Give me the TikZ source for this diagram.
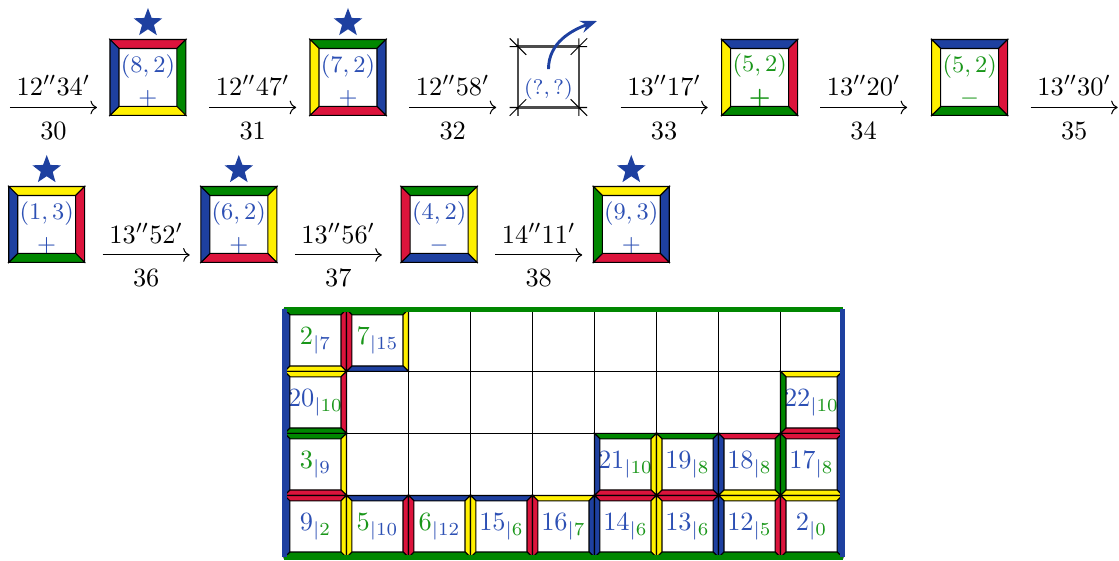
\documentclass[tikz,border=0pt]{standalone}
\usepackage{bm}
\usepackage{tikz}
\usetikzlibrary{positioning, calc, shapes.geometric, arrows.meta}

\definecolor{pblue}{RGB}{30,64,160}
\definecolor{pred}{RGB}{220,20,60}
\definecolor{pgreen}{RGB}{0,135,0}
\definecolor{pyellow}{RGB}{255,240,0}
\definecolor{tblue}{RGB}{45,80,180}
\definecolor{tgreen}{RGB}{25,150,25}

\tikzset{
  piece/.style={minimum size=1.013cm, inner sep=0pt, outer sep=0pt, align=center, font=\small},
  cell/.style={minimum size=0.8267cm, inner sep=0pt, outer sep=0pt}
}
\tikzset{
  move/.style={->},
  timelbl/.style={midway, above=1pt},
  movelbl/.style={midway, below=2pt},
  starmark/.style={star, star points=5, star point ratio=2.4, fill=pblue, inner sep=0pt, minimum size=0.4cm},
  gridline/.style={line width=0.6pt},
  border/.style={line width=1.9pt}
}

% four bevelled edges of a piece: node, depth, top, right, bottom, left
\newcommand{\edges}[6]{%
  \filldraw[fill=#3] (#1.north west) -- (#1.north east) -- ([shift={(-#2cm,-#2cm)}]#1.north east) -- ([shift={(#2cm,-#2cm)}]#1.north west) -- cycle;
  \filldraw[fill=#4] (#1.north east) -- (#1.south east) -- ([shift={(-#2cm,#2cm)}]#1.south east) -- ([shift={(-#2cm,-#2cm)}]#1.north east) -- cycle;
  \filldraw[fill=#5] (#1.south east) -- (#1.south west) -- ([shift={(#2cm,#2cm)}]#1.south west) -- ([shift={(-#2cm,#2cm)}]#1.south east) -- cycle;
  \filldraw[fill=#6] (#1.south west) -- (#1.north west) -- ([shift={(#2cm,-#2cm)}]#1.north west) -- ([shift={(#2cm,#2cm)}]#1.south west) -- cycle;
}
\newcommand{\gnum}[4]{$\textcolor{#3}{#1}_{\textcolor{tblue}{|}\textcolor{#4}{#2}}$}
\newcommand{\pos}[2]{\rule{0pt}{9.2pt}$#1$\\[1.5pt]$#2$}

\begin{document}
\begin{tikzpicture}
  \useasboundingbox (0,0) rectangle (14.92,-7.48);

  % first row of moves
  \node[piece, text=tblue] (m30) at (1.973,-1.033) {\pos{(8,2)}{+}};
  \edges{m30}{0.12}{pred}{pgreen}{pyellow}{pblue}
  \node[piece, text=tblue] (m31) at (4.64,-1.033) {\pos{(7,2)}{+}};
  \edges{m31}{0.12}{pgreen}{pblue}{pred}{pyellow}
  \node[draw=black!70, line width=0.8pt, minimum size=0.813cm, inner sep=0pt, outer sep=0pt] (m32) at (7.313,-1.027) {};
  \foreach \a/\sx/\sy in {north west/-1/1, north east/1/1, south east/1/-1, south west/-1/-1}
    \draw ([shift={(\sx*0.11,0)}]m32.\a) -- (m32.\a) -- ([shift={(0,\sy*0.11)}]m32.\a)
          ([shift={(\sx*0.11,\sy*0.11)}]m32.\a) -- ([shift={(\sx*-0.11,\sy*-0.11)}]m32.\a);
  \node[font=\footnotesize, text=tblue] (q32) at ([yshift=-0.16cm]m32.center) {$(?,?)$};
  \coordinate (away) at (7.96,-0.28);
  \draw[-{Stealth[length=2.2mm]}, line width=1.1pt, pblue] (q32.north) to[out=90, in=200] (away);
  \node[piece, text=tgreen] (m33) at (10.129,-1.033) {\pos{(5,2)}{\bm{+}}};
  \edges{m33}{0.12}{pblue}{pred}{pgreen}{pyellow}
  \node[piece, text=tgreen] (m34) at (12.929,-1.033) {\pos{(5,2)}{-}};
  \edges{m34}{0.12}{pblue}{pred}{pgreen}{pyellow}

  % second row of moves
  \node[piece, text=tblue] (m35) at (0.623,-2.993) {\pos{(1,3)}{+}};
  \edges{m35}{0.12}{pyellow}{pred}{pgreen}{pblue}
  \node[piece, text=tblue] (m36) at (3.184,-2.993) {\pos{(6,2)}{+}};
  \edges{m36}{0.12}{pgreen}{pyellow}{pred}{pblue}
  \node[piece, text=tblue] (m37) at (5.856,-2.993) {\pos{(4,2)}{-}};
  \edges{m37}{0.12}{pgreen}{pyellow}{pblue}{pred}
  \node[piece, text=tblue] (m38) at (8.417,-2.993) {\pos{(9,3)}{+}};
  \edges{m38}{0.12}{pyellow}{pblue}{pred}{pgreen}

  % stars over the good moves
  \foreach \m in {30,31,35,36,38}
    \node[starmark] (s\m) at ([yshift=0.22cm]m\m.north) {};

  % timed arrows
  \coordinate (start) at (0.133,-1.433);
  \draw[move] (start) -- ++(1.16,0) node[timelbl] (w30) {$12''34'$} node[movelbl] (n30) {$30$};
  \draw[move] ([shift={(0.31,0.107)}]m30.south east) -- ++(1.16,0) node[timelbl] (w31) {$12''47'$} node[movelbl] (n31) {$31$};
  \draw[move] ([shift={(0.31,0.107)}]m31.south east) -- ++(1.16,0) node[timelbl] (w32) {$12''58'$} node[movelbl] (n32) {$32$};
  \draw[move] ([shift={(0.556,0)}]m32.south east) -- ++(1.16,0) node[timelbl] (w33) {$13''17'$} node[movelbl] (n33) {$33$};
  \draw[move] ([shift={(0.3,0.107)}]m33.south east) -- ++(1.16,0) node[timelbl] (w34) {$13''20'$} node[movelbl] (n34) {$34$};
  \draw[move] ([shift={(0.307,0.107)}]m34.south east) -- ++(1.16,0) node[timelbl] (w35) {$13''30'$} node[movelbl] (n35) {$35$};
  \draw[move] ([shift={(0.24,0.1)}]m35.south east) -- ++(1.16,0) node[timelbl] (w36) {$13''52'$} node[movelbl] (n36) {$36$};
  \draw[move] ([shift={(0.24,0.1)}]m36.south east) -- ++(1.16,0) node[timelbl] (w37) {$13''56'$} node[movelbl] (n37) {$37$};
  \draw[move] ([shift={(0.24,0.1)}]m37.south east) -- ++(1.16,0) node[timelbl] (w38) {$14''11'$} node[movelbl] (n38) {$38$};

  % the board
  \begin{scope}[shift={(3.793,-7.433)}, x=0.8267cm, y=0.8267cm]
    \foreach \k in {1,...,8}
      \draw[gridline] (\k,0) -- (\k,4);
    \foreach \k in {1,2,3}
      \draw[gridline] (0,\k) -- (9,\k);
    \foreach \x/\y/\ct/\cr/\cb/\cl/\n/\s/\nc/\sc in {
        1/1/pgreen/pred/pyellow/pblue/2/7/tgreen/tblue,
        2/1/pgreen/pyellow/pblue/pred/7/15/tgreen/tblue,
        1/2/pyellow/pred/pgreen/pblue/20/10/tblue/tgreen,
        9/2/pyellow/pblue/pred/pgreen/22/10/tblue/tgreen,
        1/3/pgreen/pyellow/pred/pblue/3/9/tgreen/tblue,
        6/3/pgreen/pyellow/pred/pblue/21/10/tblue/tgreen,
        7/3/pgreen/pblue/pred/pyellow/19/8/tblue/tgreen,
        8/3/pred/pgreen/pyellow/pblue/18/8/tblue/tgreen,
        9/3/pred/pblue/pyellow/pgreen/17/8/tblue/tgreen,
        1/4/pred/pyellow/pgreen/pblue/9/2/tblue/tgreen,
        2/4/pblue/pred/pgreen/pyellow/5/10/tgreen/tblue,
        3/4/pblue/pyellow/pgreen/pred/6/12/tgreen/tblue,
        4/4/pblue/pred/pgreen/pyellow/15/6/tblue/tgreen,
        5/4/pyellow/pblue/pgreen/pred/16/7/tblue/tgreen,
        6/4/pred/pyellow/pgreen/pblue/14/6/tblue/tgreen,
        7/4/pred/pblue/pgreen/pyellow/13/6/tblue/tgreen,
        8/4/pyellow/pred/pgreen/pblue/12/5/tblue/tgreen,
        9/4/pyellow/pblue/pgreen/pred/2/0/tblue/tgreen} {
      \node[cell] (g\x\y) at (\x-0.5,4.5-\y) {\gnum{\n}{\s}{\nc}{\sc}};
      \edges{g\x\y}{0.073}{\ct}{\cr}{\cb}{\cl}
    }
    \draw[border, pgreen] (0,4) -- (9,4) (0,0) -- (9,0);
    \draw[border, pblue] (0,0) -- (0,4) (9,0) -- (9,4);
  \end{scope}
\end{tikzpicture}
\end{document}
